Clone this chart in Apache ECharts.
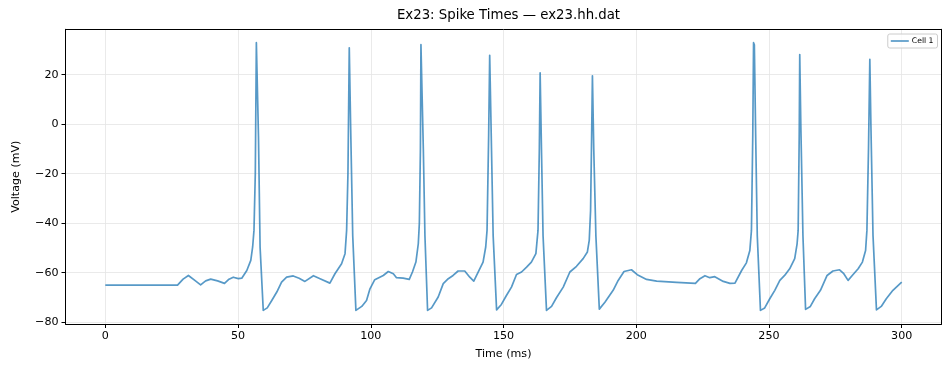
<!DOCTYPE html>
<html>
<head>
<meta charset="utf-8">
<script src="https://cdn.jsdelivr.net/npm/echarts@6/dist/echarts.min.js"></script>
<style>
html,body{margin:0;padding:0;background:#fff;}
#chart{width:950px;height:374px;}
</style>
</head>
<body>
<div id="chart"></div>
<script>
const timeMs = [0,10,20,27.2,29.3,31.3,33.6,35.9,37.8,39.7,42.3,44.9,46.6,48.2,50.1,51.4,53.3,54.8,55.5,56.0,56.5,56.9,57.2,57.7,58.3,59.5,61.0,62.7,64.6,66.4,68.3,70.8,73.0,75.2,78.4,80.9,84.6,86.5,89.0,90.3,90.9,91.4,91.9,92.4,93.2,94.4,96.6,98.4,99.7,101.5,103.4,104.7,106.6,108.5,109.7,112.2,114.5,115.7,117.0,117.9,118.3,118.7,118.9,119.3,119.8,120.4,121.4,122.9,125.4,127.3,129.2,131.0,132.9,135.4,137.3,138.8,140.5,142.3,143.3,143.8,144.4,144.8,145.3,146.1,147.4,149.2,151.1,153.0,154.9,156.8,158.7,160.5,162.2,163.0,163.5,163.8,164.3,164.9,166.2,168.1,170.0,172.5,175.0,177.5,180.0,181.6,182.3,182.8,183.2,183.5,184.0,184.8,186.1,188.2,191.3,193.2,195.4,198.2,200.4,203.9,207.7,215.2,222.3,224.0,225.9,227.7,229.6,232.8,235.3,237.2,239.7,241.5,242.8,243.4,243.9,244.2,244.5,245.0,245.6,246.8,248.4,250.3,252.2,254.1,255.9,257.8,259.7,260.6,261.0,261.4,261.6,262.0,262.8,263.8,265.6,267.2,269.4,271.9,274.1,276.6,278.2,279.8,281.7,283.6,285.2,286.4,286.9,287.5,288.0,288.4,289.2,290.5,292.3,294.2,296.7,300];
const voltage = [-65,-65,-65,-65,-62.6,-61.1,-63.0,-64.9,-63.3,-62.6,-63.3,-64.3,-62.6,-61.8,-62.4,-62.2,-59.1,-55.0,-49.6,-42.9,-20,32.9,32.6,-5,-49.6,-75.2,-74.2,-71.2,-67.8,-63.8,-61.8,-61.3,-62.2,-63.5,-61.2,-62.4,-64.2,-60.4,-56.4,-52.3,-42.9,-20,30.8,0,-45,-75.2,-73.6,-71.2,-66.5,-62.8,-61.8,-61.1,-59.5,-60.4,-62.0,-62.2,-62.7,-59.7,-55.7,-48.3,-40,-10,32.1,31.5,-10,-45,-75.2,-74.2,-69.8,-64.4,-62.4,-61.1,-59.3,-59.3,-61.8,-63.4,-59.7,-55.7,-49.6,-42.9,-5,27.8,0,-45,-75.0,-72.8,-69.2,-65.8,-60.7,-59.7,-57.7,-55.7,-52.3,-42.9,-10,20.7,-10,-45,-75.2,-73.6,-70.0,-65.8,-59.7,-57.4,-54.3,-51.6,-46.9,-35,-5,19.5,-10,-45,-74.7,-71.9,-67.1,-63.1,-59.5,-58.8,-60.8,-62.7,-63.4,-63.9,-64.3,-62.4,-61.2,-62.0,-61.6,-63.5,-64.3,-64.2,-59.1,-56.0,-51.0,-42.9,-5,32.9,32.0,-5,-45,-75.2,-74.2,-70.5,-67.1,-63.1,-61.1,-58.4,-54.3,-48.3,-42.9,-5,28.1,0,-45,-74.8,-73.6,-70.5,-67.1,-61.1,-59.3,-58.8,-60.4,-63.1,-60.7,-58.4,-55.7,-51.0,-42.9,-10,26.2,0,-45,-75.0,-73.6,-70.5,-67.1,-63.8];
const xTicks = [0,50,100,150,200,250,300];
const yTicks = [-80,-60,-40,-20,0,20];
const seriesName = 'Cell 1';
const titleText = 'Ex23: Spike Times — ex23.hh.dat';

const FONT = 'DejaVu Sans';
const chart = echarts.init(document.getElementById('chart'), null, {renderer:'canvas'});
const pts = timeMs.map((t,i)=>[t, voltage[i]]);
const fmt = v => String(v).replace('-', '\u2212');
const X_MIN = -15, X_MAX = 315, Y_MIN = -80.7, Y_MAX = 38.3;
const spine = {show:true, onZero:false, lineStyle:{color:'#000', width:1}};
const bareAxis = {axisLine:spine, axisTick:{show:false}, axisLabel:{show:false}, splitLine:{show:false}};

chart.setOption({
  animation:false,
  backgroundColor:'#fff',
  title:{
    text:titleText, left:503.5, textAlign:'center', top:4,
    textStyle:{fontFamily:FONT, fontSize:13.3, fontWeight:'normal', color:'#000'}
  },
  legend:{
    right:12.5, top:34, orient:'vertical',
    itemWidth:18, itemHeight:9, padding:[3,4,3,3],
    borderColor:'#cccccc', borderWidth:1, borderRadius:2,
    backgroundColor:'rgba(255,255,255,0.8)',
    textStyle:{fontFamily:FONT, fontSize:7.7, color:'#000', padding:[0,0,0,-2]},
    data:[{name:seriesName, icon:'path://M0,0 L18,0 L18,1.7 L0,1.7 Z'}]
  },
  grid:{left:65.5, top:29.3, width:876, height:294.7, containLabel:false},
  xAxis:[{
    type:'value', min:X_MIN, max:X_MAX,
    name:'Time (ms)', nameLocation:'middle', nameGap:25,
    nameTextStyle:{fontFamily:FONT, fontSize:11.1, color:'#000'},
    axisLine:spine,
    axisTick:{show:true, length:4, lineStyle:{color:'#000', width:1}, customValues:xTicks},
    axisLabel:{fontFamily:FONT, fontSize:11.1, color:'#000', margin:7, customValues:xTicks, formatter:fmt},
    splitLine:{show:true, lineStyle:{color:'#e4e4e4', width:0.8}}
  },Object.assign({type:'value', position:'top', min:X_MIN, max:X_MAX}, bareAxis)],
  yAxis:[{
    type:'value', min:Y_MIN, max:Y_MAX,
    name:'Voltage (mV)', nameLocation:'middle', nameGap:44, nameRotate:90,
    nameTextStyle:{fontFamily:FONT, fontSize:11.1, color:'#000'},
    axisLine:spine,
    axisTick:{show:true, length:4, lineStyle:{color:'#000', width:1}, customValues:yTicks},
    axisLabel:{fontFamily:FONT, fontSize:11.1, color:'#000', margin:7, customValues:yTicks, formatter:fmt},
    splitLine:{show:true, lineStyle:{color:'#e4e4e4', width:0.8}}
  },Object.assign({type:'value', position:'right', min:Y_MIN, max:Y_MAX}, bareAxis)],
  series:[{
    name:seriesName, type:'line', data:pts, symbol:'none', smooth:false,
    xAxisIndex:0, yAxisIndex:0,
    lineStyle:{color:'#1f77b4', width:1.7, opacity:0.75, join:'round'},
    itemStyle:{color:'rgba(31,119,180,0.75)'},
    z:3
  }]
});
</script>
</body>
</html>
